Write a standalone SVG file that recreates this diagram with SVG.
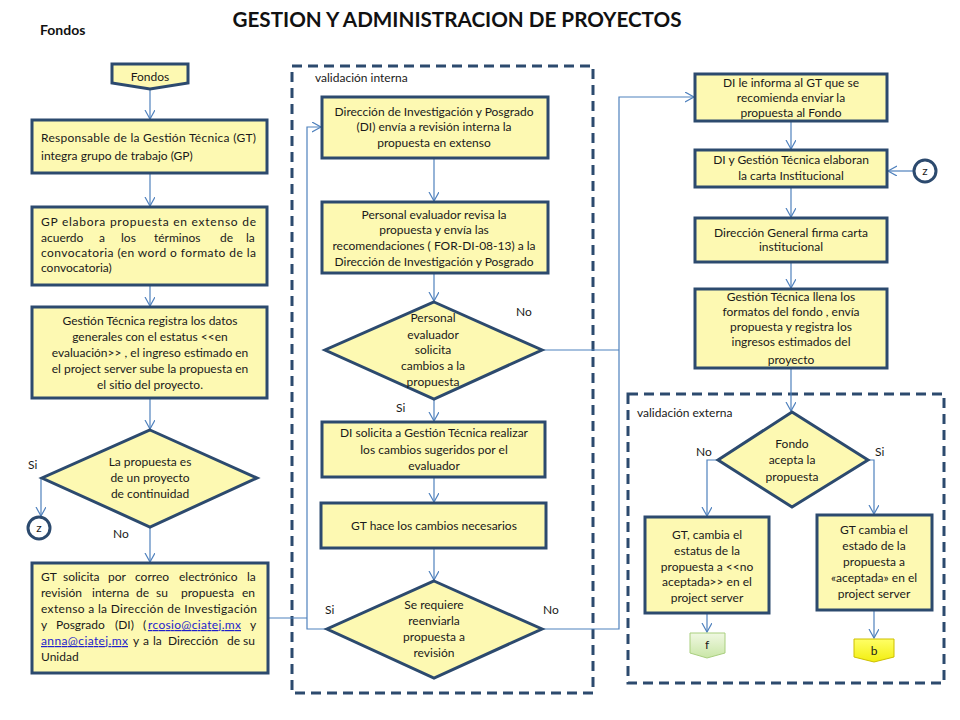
<svg xmlns="http://www.w3.org/2000/svg" width="960" height="720" viewBox="0 0 960 720">
<defs>
<style>
.box{fill:#FDF9B2;stroke:#2C4A6E;stroke-width:3}
.frame{fill:none;stroke:#2C4A6E;stroke-width:3;stroke-dasharray:10 6}
.t{font-family:Lato,"Liberation Sans",sans-serif;font-size:12px;fill:#1a1a1a}
.c{text-anchor:middle}
.lnk{fill:#1F1FCC;text-decoration:underline}
.con{fill:none;stroke:#4F81BD;stroke-width:1.2}
.arr{marker-end:url(#ah)}
</style>
<marker id="ah" markerUnits="userSpaceOnUse" markerWidth="12" markerHeight="12" refX="9" refY="5" orient="auto">
<path d="M0,0 L9,5 L0,10" fill="none" stroke="#4F81BD" stroke-width="1.2"/>
</marker>
<linearGradient id="gf" x1="0" y1="0" x2="0" y2="1"><stop offset="0" stop-color="#F0F8E2"/><stop offset="1" stop-color="#C9E6A6"/></linearGradient>
<linearGradient id="gb" x1="0" y1="0" x2="0" y2="1"><stop offset="0" stop-color="#FFFF66"/><stop offset="1" stop-color="#F2EE10"/></linearGradient>
</defs>
<rect width="960" height="720" fill="#fff"/>
<text x="457" y="27" text-anchor="middle" font-family="Lato,'Liberation Sans',sans-serif" font-weight="bold" font-size="20" textLength="449" lengthAdjust="spacingAndGlyphs" fill="#111">GESTION Y ADMINISTRACION DE PROYECTOS</text>
<text x="40" y="35" font-family="Lato,'Liberation Sans',sans-serif" font-weight="bold" font-size="14" fill="#111">Fondos</text>

<g id="frames">
<rect class="frame" x="292" y="66" width="301" height="627"/>
<text class="t" x="315" y="82" font-size="11">validación interna</text>
<rect class="frame" x="628" y="394" width="316" height="289"/>
<text class="t" x="637" y="417" font-size="11">validación externa</text>
</g>

<g id="connectors">
<path class="con arr" d="M150,89 V119"/>
<path class="con arr" d="M150,173 V206"/>
<path class="con arr" d="M150,285 V306"/>
<path class="con arr" d="M150,398 V429"/>
<path class="con arr" d="M41,478 V516"/>
<path class="con arr" d="M150,527 V562"/>
<path class="con" d="M268,618 H307"/>
<path class="con arr" d="M327,629 H307 V127 H321"/>
<path class="con arr" d="M434,158 V201"/>
<path class="con arr" d="M434,273 V301"/>
<path class="con arr" d="M434,399 V421"/>
<path class="con arr" d="M434,477 V502"/>
<path class="con arr" d="M434,548 V580"/>
<path class="con" d="M542,350 H619"/>
<path class="con arr" d="M542,629 H619 V97 H694"/>
<path class="con arr" d="M791,121 V149"/>
<path class="con arr" d="M791,187 V217"/>
<path class="con arr" d="M791,262 V288"/>
<path class="con arr" d="M791,368 V411"/>
<path class="con arr" d="M913,171 H888"/>
<path class="con arr" d="M718,460 H707 V516"/>
<path class="con arr" d="M868,460 H874 V514"/>
<path class="con arr" d="M707,613 V632"/>
<path class="con arr" d="M874,610 V638"/>
<text class="t" x="28" y="469">Si</text>
<text class="t" x="113" y="538">No</text>
<text class="t" x="516" y="316">No</text>
<text class="t" x="396" y="412">Si</text>
<text class="t" x="325" y="614">Si</text>
<text class="t" x="543" y="614">No</text>
<text class="t" x="696" y="456">No</text>
<text class="t" x="875" y="456">Si</text>
</g>

<g id="n-fondos">
<polygon points="112,64 188,64 188,83 150,89 112,83" fill="#FDF9B2" stroke="#2C4A6E" stroke-width="3"/>
<text class="t c" x="150" y="81" font-size="14">Fondos</text>
</g>

<g id="n-l1">
<rect class="box" x="32" y="120" width="235" height="53"/>
<text class="t" x="41" y="142" textLength="215" lengthAdjust="spacing">Responsable de la Gestión Técnica (GT)</text>
<text class="t" x="41" y="160">integra grupo de trabajo (GP)</text>
</g>

<g id="n-l2">
<rect class="box" x="32" y="207" width="235" height="78"/>
<text class="t" x="41" y="226" textLength="215" lengthAdjust="spacing">GP elabora propuesta en extenso de</text>
<text class="t" y="242"><tspan x="41">acuerdo</tspan><tspan x="99">a</tspan><tspan x="121">los</tspan><tspan x="154">términos</tspan><tspan x="220">de</tspan><tspan x="246">la</tspan></text>
<text class="t" x="41" y="257" textLength="215" lengthAdjust="spacing">convocatoria (en word o formato de la</text>
<text class="t" x="41" y="272">convocatoria)</text>
</g>

<g id="n-l3">
<rect class="box" x="32" y="307" width="235" height="91"/>
<text class="t c" x="150" y="325">Gestión Técnica  registra los datos</text>
<text class="t c" x="150" y="341">generales con el estatus &lt;&lt;en</text>
<text class="t c" x="150" y="357">evaluación&gt;&gt; ,  el ingreso estimado  en</text>
<text class="t c" x="150" y="373">el project server  sube la propuesta en</text>
<text class="t c" x="150" y="389">el sitio del proyecto.</text>
</g>

<g id="n-l4">
<polygon class="box" points="150,430 257,478 150,527 42,478"/>
<text class="t c" x="150" y="466">La propuesta es</text>
<text class="t c" x="150" y="482">de un proyecto</text>
<text class="t c" x="150" y="498">de continuidad</text>
</g>

<g id="n-z1">
<circle cx="39" cy="528" r="11" fill="#fff" stroke="#2C4A6E" stroke-width="3"/>
<text class="t c" x="39" y="532" font-size="11">z</text>
</g>

<g id="n-l5">
<rect class="box" x="32" y="563" width="236" height="110"/>
<text class="t" y="581"><tspan x="41">GT</tspan><tspan x="63">solicita</tspan><tspan x="108">por</tspan><tspan x="135">correo</tspan><tspan x="179">electrónico</tspan><tspan x="247">la</tspan></text>
<text class="t" y="597"><tspan x="41">revisión</tspan><tspan x="92">interna</tspan><tspan x="136">de</tspan><tspan x="156">su</tspan><tspan x="181">propuesta</tspan><tspan x="242">en</tspan></text>
<text class="t" x="41" y="613" textLength="216" lengthAdjust="spacing">extenso a la Dirección de Investigación</text>
<text class="t" y="629"><tspan x="41">y</tspan><tspan x="56">Posgrado</tspan><tspan x="115">(DI)</tspan><tspan x="143">(</tspan></text>
<text class="t lnk" x="148" y="629" textLength="93" lengthAdjust="spacing">rcosio@ciatej.mx</text>
<text class="t" x="250" y="629">y</text>
<text class="t lnk" x="41" y="645" textLength="87" lengthAdjust="spacing">anna@ciatej.mx</text>
<text class="t" y="645"><tspan x="133">y</tspan><tspan x="143">a</tspan><tspan x="153">la</tspan><tspan x="168">Dirección</tspan><tspan x="227">de</tspan><tspan x="243">su</tspan></text>
<text class="t" x="41" y="661">Unidad</text>
</g>

<g id="n-m1">
<rect class="box" x="322" y="97" width="226" height="61"/>
<text class="t c" x="434" y="116">Dirección de Investigación y Posgrado</text>
<text class="t c" x="434" y="131">(DI) envía a revisión interna la</text>
<text class="t c" x="434" y="147">propuesta en extenso</text>
</g>

<g id="n-m2">
<rect class="box" x="322" y="202" width="226" height="71"/>
<text class="t c" x="434" y="219">Personal evaluador revisa la</text>
<text class="t c" x="434" y="234">propuesta y envía las</text>
<text class="t c" x="434" y="250">recomendaciones ( FOR-DI-08-13) a la</text>
<text class="t c" x="434" y="266">Dirección de Investigación y Posgrado</text>
</g>

<g id="n-m3">
<polygon class="box" points="434,302 542,350 434,399 325,350"/>
<text class="t c" x="433" y="322">Personal</text>
<text class="t c" x="433" y="339">evaluador</text>
<text class="t c" x="433" y="354">solicita</text>
<text class="t c" x="433" y="370">cambios a la</text>
<text class="t c" x="433" y="386">propuesta</text>
</g>

<g id="n-m4">
<rect class="box" x="322" y="422" width="223" height="55"/>
<text class="t c" x="434" y="437">DI solicita a Gestión Técnica realizar</text>
<text class="t c" x="434" y="454">los cambios sugeridos por el</text>
<text class="t c" x="434" y="470">evaluador</text>
</g>

<g id="n-m5">
<rect class="box" x="321" y="503" width="225" height="45"/>
<text class="t c" x="434" y="530">GT hace los cambios necesarios</text>
</g>

<g id="n-m6">
<polygon class="box" points="434,581 542,629 434,678 327,629"/>
<text class="t c" x="434" y="609">Se  requiere</text>
<text class="t c" x="434" y="625">reenviarla</text>
<text class="t c" x="434" y="641">propuesta a</text>
<text class="t c" x="434" y="657">revisión</text>
</g>

<g id="n-r1">
<rect class="box" x="695" y="74" width="192" height="47"/>
<text class="t c" x="791" y="87">DI le informa al GT que se</text>
<text class="t c" x="791" y="102">recomienda enviar la</text>
<text class="t c" x="791" y="117">propuesta al Fondo</text>
</g>

<g id="n-r2">
<rect class="box" x="695" y="150" width="192" height="37"/>
<text class="t c" x="791" y="164">DI  y Gestión Técnica elaboran</text>
<text class="t c" x="791" y="180">la  carta Institucional</text>
</g>

<g id="n-z2">
<circle cx="925" cy="171" r="11" fill="#fff" stroke="#2C4A6E" stroke-width="3"/>
<text class="t c" x="925" y="175" font-size="11">z</text>
</g>

<g id="n-r3">
<rect class="box" x="695" y="218" width="192" height="44"/>
<text class="t c" x="791" y="237">Dirección General  firma carta</text>
<text class="t c" x="791" y="251">institucional</text>
</g>

<g id="n-r4">
<rect class="box" x="695" y="289" width="192" height="79"/>
<text class="t c" x="791" y="301">Gestión Técnica llena los</text>
<text class="t c" x="791" y="316">formatos del fondo , envía</text>
<text class="t c" x="791" y="331">propuesta y registra los</text>
<text class="t c" x="791" y="346">ingresos estimados del</text>
<text class="t c" x="791" y="364">proyecto</text>
</g>

<g id="n-r5">
<polygon class="box" points="792,412 868,460 792,507 718,460"/>
<text class="t c" x="792" y="448">Fondo</text>
<text class="t c" x="792" y="464">acepta la</text>
<text class="t c" x="792" y="481">propuesta</text>
</g>

<g id="n-r6">
<rect class="box" x="645" y="517" width="124" height="96"/>
<text class="t c" x="707" y="539">GT, cambia el</text>
<text class="t c" x="707" y="555">estatus de la</text>
<text class="t c" x="707" y="571">propuesta a &lt;&lt;no</text>
<text class="t c" x="707" y="586">aceptada&gt;&gt;  en el</text>
<text class="t c" x="707" y="602">project server</text>
</g>

<g id="n-r7">
<rect class="box" x="817" y="515" width="115" height="95"/>
<text class="t c" x="874" y="534">GT cambia el</text>
<text class="t c" x="874" y="550">estado de la</text>
<text class="t c" x="874" y="566">propuesta a</text>
<text class="t c" x="874" y="582">«aceptada» en el</text>
<text class="t c" x="874" y="598">project server</text>
</g>

<g id="n-f">
<polygon points="690,633 725,633 725,653 707,658 690,653" fill="url(#gf)" stroke="#A9CF7F" stroke-width="1"/>
<text class="t c" x="707" y="649" font-size="14">f</text>
</g>

<g id="n-b">
<polygon points="854,639 894,639 894,657 874,662 854,657" fill="url(#gb)" stroke="#CDBF00" stroke-width="1"/>
<text class="t c" x="874" y="655" font-size="14">b</text>
</g>
</svg>
